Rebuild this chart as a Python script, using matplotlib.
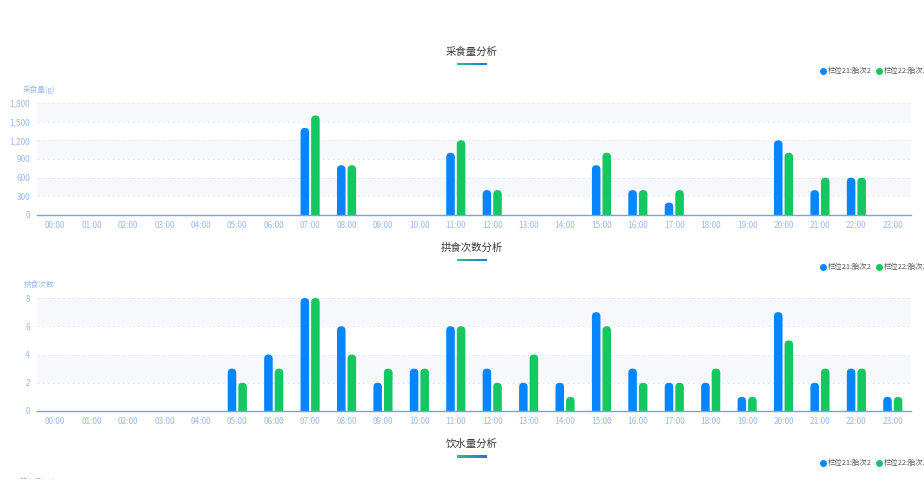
import numpy as np
import matplotlib.pyplot as plt
from matplotlib.patches import FancyBboxPatch, Rectangle
from matplotlib.lines import Line2D
from matplotlib.colors import LinearSegmentedColormap

plt.rcParams['font.family'] = ['Noto Sans CJK SC', 'DejaVu Sans']

hours = ["%02d:00" % h for h in range(24)]
series_names = ["栏位21:胎次2", "栏位22:胎次2"]

# 采食量 (g)
feed_21 = [0, 0, 0, 0, 0, 0, 0, 1400, 800, 0, 0, 1000, 400, 0, 0, 800, 400, 200, 0, 0, 1200, 400, 600, 0]
feed_22 = [0, 0, 0, 0, 0, 0, 0, 1600, 800, 0, 0, 1200, 400, 0, 0, 1000, 400, 400, 0, 0, 1000, 600, 600, 0]

# 拱食次数
push_21 = [0, 0, 0, 0, 0, 3, 4, 8, 6, 2, 3, 6, 3, 2, 2, 7, 3, 2, 2, 1, 7, 2, 3, 1]
push_22 = [0, 0, 0, 0, 0, 2, 3, 8, 4, 3, 3, 6, 2, 4, 1, 6, 2, 2, 3, 1, 5, 3, 3, 1]

BLUE = "#0586ff"
GREEN = "#13c761"
LABEL = "#9bbcec"
AXIS = "#6aa6f2"
BAND = "#f6f8fc"

W, H = 924, 501
fig = plt.figure(figsize=(W / 100, H / 100), dpi=100)
fig.patch.set_facecolor("white")


def fx(px):
    return px / W


def fy(py):
    return 1 - py / H


def header(title, y_title):
    fig.text(fx(472), fy(y_title), title, ha="center", va="center", fontsize=7.5, color="#3a3a3a")
    # gradient underline under the title
    ua = fig.add_axes([fx(457), fy(y_title + 13.5), fx(30), 2.5 / H])
    grad = np.linspace(0, 1, 60)[None, :]
    cmap = LinearSegmentedColormap.from_list("u", ["#2cc47a", "#1677f0"])
    ua.imshow(grad, aspect="auto", cmap=cmap)
    ua.axis("off")
    # legend
    ly = y_title + 19
    for cx, color, name in [(823, BLUE, series_names[0]), (879, GREEN, series_names[1])]:
        fig.add_artist(Line2D([fx(cx)], [fy(ly)], marker="o", markersize=4,
                              color=color, transform=fig.transFigure))
        fig.text(fx(cx + 5), fy(ly), name, ha="left", va="center", fontsize=5.3, color="#555555")


def rounded_bars(ax, xs, vals, color, width, ymax, plot_w, plot_h):
    # keep the corner radius circular on screen
    aspect = (ymax / plot_h) / (24 / plot_w)
    r = width / 2
    for x, v in zip(xs, vals):
        if v <= 0:
            continue
        p = FancyBboxPatch((x - width / 2, -r * aspect * 2), width, v + r * aspect * 2,
                           boxstyle="round,pad=0,rounding_size=%f" % r,
                           mutation_aspect=aspect, fc=color, ec="none", zorder=3)
        ax.add_patch(p)


def bar_panel(top_px, bottom_px, a, b, ymax, step, ylabel, fmt):
    left, right = 37, 911
    ax = fig.add_axes([fx(left), fy(bottom_px), fx(right - left), (bottom_px - top_px) / H])
    ax.set_xlim(0, 24)
    ax.set_ylim(0, ymax)
    ticks = np.arange(0, ymax + step / 2, step)
    for i in range(len(ticks) - 1):
        if i % 2 == 1:
            ax.axhspan(ticks[i], ticks[i + 1], color=BAND, lw=0, zorder=0)
    for t in ticks[1:]:
        ax.axhline(t, color="#e6ebf3", lw=0.6, ls=(0, (3, 3)), zorder=1)
    x = np.arange(24) + 0.5
    w = 0.235
    rounded_bars(ax, x - 0.145, a, BLUE, w, ymax, right - left, bottom_px - top_px)
    rounded_bars(ax, x + 0.145, b, GREEN, w, ymax, right - left, bottom_px - top_px)
    for s in ["top", "right", "left"]:
        ax.spines[s].set_visible(False)
    ax.spines["bottom"].set_color(AXIS)
    ax.spines["bottom"].set_linewidth(1.0)
    ax.spines["bottom"].set_zorder(4)
    ax.set_xticks(x)
    ax.set_xticklabels(hours)
    ax.set_yticks(ticks)
    ax.set_yticklabels([fmt(t) for t in ticks])
    ax.tick_params(axis="both", length=0, labelsize=6, colors=LABEL, pad=5)
    ax.tick_params(axis="x", pad=4)
    fig.text(fx(ylabel[1]), fy(top_px - 13), ylabel[0], ha="center", va="center",
             fontsize=5.5, color=LABEL)
    return ax


header("采食量分析", 52)
bar_panel(103, 215, feed_21, feed_22, 1800, 300, ("采食量(g)", 39), lambda t: "{:,}".format(int(t)))

header("拱食次数分析", 248)
bar_panel(298, 411, push_21, push_22, 8, 2, ("拱食次数", 39), lambda t: str(int(t)))

header("饮水量分析", 444)
fig.text(fx(39), fy(482), "饮水量(ml)", ha="center", va="center", fontsize=5.5, color=LABEL)
fig.add_artist(Rectangle((0, 0), 1, fy(479), transform=fig.transFigure, fc="white", ec="none", zorder=10))

fig.savefig("out.png", dpi=100, facecolor="white")
